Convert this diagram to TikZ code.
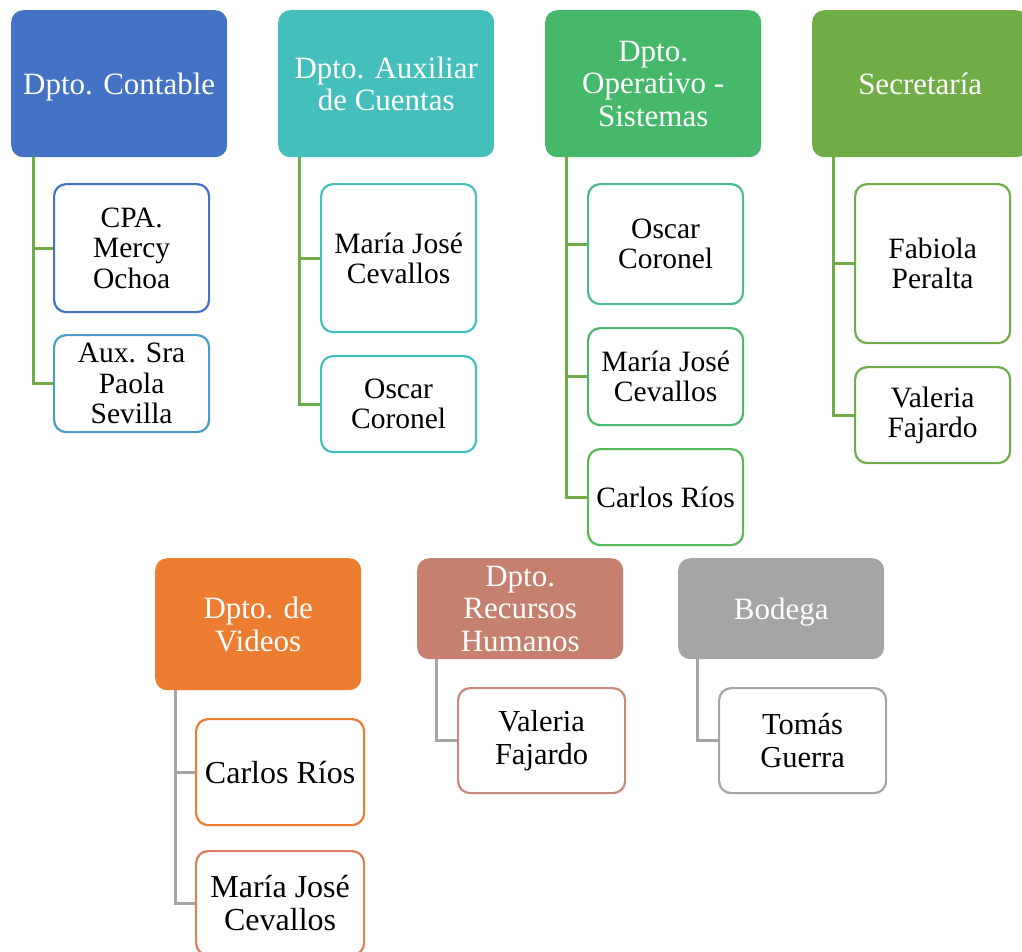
\documentclass[tikz,border=0pt]{standalone}
\usepackage{fontspec}
\setmainfont{Liberation Serif}
\definecolor{azul}{HTML}{4472C4}
\definecolor{azulclaro}{HTML}{4A9DCB}
\definecolor{turquesa}{HTML}{45BFBC}
\definecolor{verdeop}{HTML}{46B86A}
\definecolor{verdeagua}{HTML}{4BBB8C}
\definecolor{verdemed}{HTML}{4DB870}
\definecolor{verdecl}{HTML}{56B955}
\definecolor{verde}{HTML}{70AD47}
\definecolor{naranja}{HTML}{ED7D31}
\definecolor{salmon}{HTML}{D9805F}
\definecolor{rosa}{HTML}{C5806F}
\definecolor{rosacl}{HTML}{C78B7E}
\definecolor{gris}{HTML}{A5A5A5}
\tikzset{
  jefe/.style={rounded corners=12pt, inner sep=0pt, minimum width=216pt, minimum height=147pt,
    text=white, align=center, anchor=north west, text depth=0pt, font=\fontsize{31}{32.5}\selectfont},
  miembro/.style={rounded corners=12pt, draw, line width=2.2pt, fill=white, inner sep=0pt,
    minimum width=155pt, align=center, anchor=north west, font=\fontsize{29.5}{30.3}\selectfont},
  linea/.style={line width=3pt}
}
\begin{document}
\begin{tikzpicture}[x=1pt,y=-1pt]
\useasboundingbox (0,0) rectangle (1022,951);

%fila de arriba
\node[jefe, fill=azul] (cont) at (11,10) {Dpto. Contable};
\node[miembro, draw=azul, minimum height=128pt] (cont1) at (53,183) {CPA.\\Mercy\\Ochoa};
\node[miembro, draw=azulclaro, minimum height=97pt] (cont2) at (53,334) {Aux. Sra\\Paola\\Sevilla};
\foreach \h in {cont1,cont2}
  \draw[linea, verde] ([xshift=22pt]cont.south west) |- (\h.west);

\node[jefe, fill=turquesa] (aux) at (278,10) {Dpto. Auxiliar\\de Cuentas};
\node[miembro, draw=turquesa, minimum height=148pt] (aux1) at (320,183) {María José\\Cevallos};
\node[miembro, draw=turquesa, minimum height=96pt] (aux2) at (320,355) {Oscar\\Coronel};
\foreach \h in {aux1,aux2}
  \draw[linea, verde] ([xshift=21pt]aux.south west) |- (\h.west);

\node[jefe, fill=verdeop] (ope) at (545,10) {Dpto.\\Operativo -\\Sistemas};
\node[miembro, draw=verdeagua, minimum height=120pt] (ope1) at (587,183) {Oscar\\Coronel};
\node[miembro, draw=verdemed, minimum height=97pt] (ope2) at (587,327) {María José\\Cevallos};
\node[miembro, draw=verdecl, minimum height=96pt] (ope3) at (587,448) {Carlos Ríos};
\foreach \h in {ope1,ope2,ope3}
  \draw[linea, verde] ([xshift=21pt]ope.south west) |- (\h.west);

\node[jefe, fill=verde] (sec) at (812,10) {Secretaría};
\node[miembro, draw=verde, minimum height=159pt] (sec1) at (854,183) {Fabiola\\Peralta};
\node[miembro, draw=verde, minimum height=96pt] (sec2) at (854,366) {Valeria\\Fajardo};
\foreach \h in {sec1,sec2}
  \draw[linea, verde] ([xshift=21pt]sec.south west) |- (\h.west);

%fila de abajo
\node[jefe, fill=naranja, minimum width=206pt, minimum height=132pt] (vid) at (155,558) {Dpto. de\\Videos};
\node[miembro, draw=naranja, minimum width=168pt, minimum height=106pt,
  font=\fontsize{32}{32.5}\selectfont] (vid1) at (195,718) {Carlos Ríos};
\node[miembro, draw=salmon, minimum width=168pt, minimum height=104pt,
  font=\fontsize{32}{32.5}\selectfont] (vid2) at (195,850) {María José\\Cevallos};
\foreach \h in {vid1,vid2}
  \draw[linea, gris] ([xshift=20pt]vid.south west) |- (\h.west);

\node[jefe, fill=rosa, minimum width=206pt, minimum height=101pt] (rrhh) at (417,558) {Dpto.\\Recursos\\Humanos};
\node[miembro, draw=rosacl, minimum width=167pt, minimum height=105pt,
  font=\fontsize{30.5}{33}\selectfont] (rrhh1) at (457,687) {Valeria\\Fajardo};
\draw[linea, gris] ([xshift=19pt]rrhh.south west) |- (rrhh1.west);

\node[jefe, fill=gris, minimum width=206pt, minimum height=101pt] (bod) at (678,558) {Bodega};
\node[miembro, draw=gris, minimum width=167pt, minimum height=105pt,
  font=\fontsize{30.5}{33}\selectfont] (bod1) at (718,687) {Tomás\\Guerra};
\draw[linea, gris] ([xshift=19pt]bod.south west) |- (bod1.west);

\end{tikzpicture}
\end{document}
